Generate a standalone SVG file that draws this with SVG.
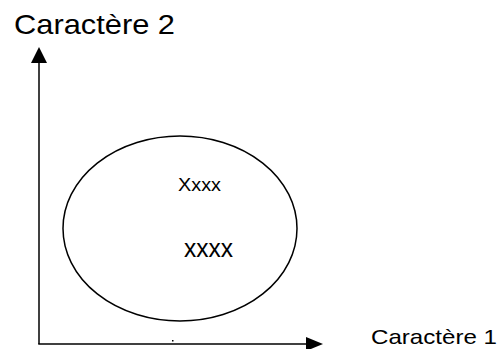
<svg xmlns="http://www.w3.org/2000/svg" width="502" height="349" viewBox="0 0 502 349">
<style>
.ax{stroke:#000;stroke-width:1.5;fill:none}
.hd{fill:#000;stroke:none}
.t{font-family:"Liberation Sans",Arial,sans-serif;fill:#000}
</style>
<rect width="502" height="349" fill="#fff"/>
<g id="connectors">
<line class="ax" x1="39" y1="344" x2="39" y2="62"/>
<polygon class="hd" points="39,47 31,63 47,63"/>
<line class="ax" x1="38.25" y1="344" x2="307" y2="344"/>
<polygon class="hd" points="323,344 306,337 306,351"/>
</g>
<g id="ellipse">
<ellipse cx="180" cy="228.5" rx="117" ry="92.5" fill="none" stroke="#000" stroke-width="1.5"/>
<text class="t" x="178" y="191" font-size="19" textLength="43" lengthAdjust="spacingAndGlyphs">Xxxx</text>
<text class="t" x="184" y="257" font-size="25" textLength="49" lengthAdjust="spacingAndGlyphs">xxxx</text>
</g>
<g id="label-y">
<text class="t" x="14" y="34" font-size="27.5" textLength="161" lengthAdjust="spacingAndGlyphs">Caractère 2</text>
</g>
<g id="label-x">
<text class="t" x="371" y="344" font-size="21" textLength="126" lengthAdjust="spacingAndGlyphs">Caractère 1</text>
</g>
<rect x="172" y="340" width="1.5" height="1.5" fill="#000"/>
</svg>
